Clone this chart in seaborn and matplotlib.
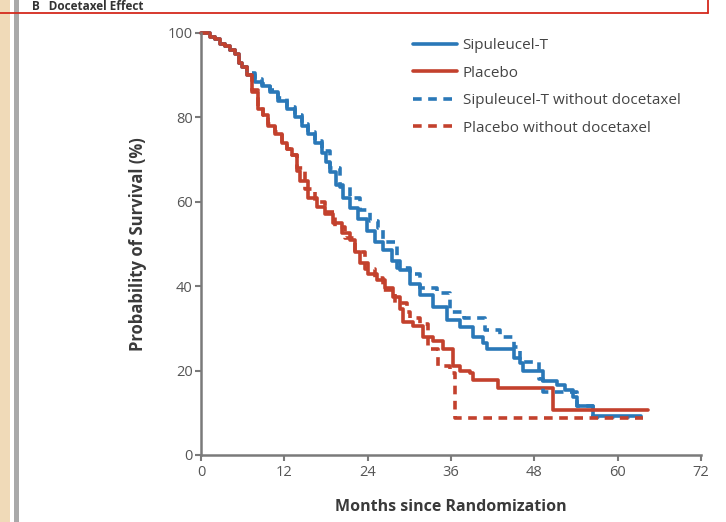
import matplotlib
matplotlib.use("Agg")
import matplotlib.pyplot as plt
from matplotlib.patches import Rectangle
from matplotlib.lines import Line2D
import seaborn as sns

# Kaplan-Meier step knots (months, % surviving)
sip_months = [0, 1.3, 2.0, 2.7, 3.5, 4.2, 4.9, 5.5, 5.9, 6.6, 7.8, 8.8, 9.9, 11.1, 12.4,
              13.5, 14.6, 15.4, 16.4, 17.4, 18.0, 18.6, 19.5, 20.5, 21.5, 22.6, 23.9, 25.1,
              26.2, 27.5, 28.7, 30.1, 31.6, 33.4, 35.4, 37.3, 39.2, 40.6, 41.2, 45.0,
              46.0, 46.4, 48.4, 49.3, 51.3, 52.4, 53.5, 54.2, 56.5, 63.3]
sip_surv = [100, 99, 98.5, 97.5, 97, 96, 95, 93, 92, 90, 88.5, 87.5, 86, 84, 82,
            80, 78, 76, 74, 71.5, 69.5, 67, 64, 61, 58.5, 56, 53, 50.5,
            48.5, 46, 43.8, 40.5, 38, 35, 32, 30.3, 28, 26.5, 25, 23,
            21.8, 20, 20, 17.5, 16.6, 15.4, 13.7, 11.5, 9.2, 9.2]

pla_months = [0, 1.3, 2.0, 2.7, 3.5, 4.2, 4.9, 5.5, 5.9, 6.6, 7.3, 8.2, 8.9, 9.7, 10.7,
              11.7, 12.4, 13.1, 13.8, 14.3, 15.4, 16.7, 17.9, 19.0, 20.3, 21.5, 22.2,
              22.9, 24.1, 25.4, 26.5, 27.7, 28.7, 29.1, 30.5, 32.0, 33.4, 34.9, 36.3,
              37.3, 38.8, 39.2, 42.7, 50.7, 64.4]
pla_surv = [100, 99, 98.5, 97.5, 97, 96, 95, 93, 92, 90, 86, 82, 80.5, 78, 76,
            74, 72.5, 71, 67.3, 65, 61, 58.8, 57, 55, 52.5, 51, 48,
            45.5, 43, 41.5, 39.5, 37.4, 34.5, 31.5, 30.5, 28, 27, 25, 21,
            20, 19.4, 17.8, 15.9, 10.7, 10.7]

sip_nodoc_months = [0, 1.3, 2.0, 2.7, 3.5, 4.2, 4.9, 5.5, 5.9, 6.6, 7.8, 8.8, 9.9, 11.1,
                    12.4, 13.5, 14.6, 15.4, 16.4, 17.4, 18.6, 20.0, 21.5, 22.9, 24.4,
                    25.5, 26.2, 28.2, 30.1, 31.6, 34.0, 35.9, 37.8, 40.9, 43.1, 45.0,
                    46.0, 48.6, 49.3, 54.2, 56.5, 62.8]
sip_nodoc_surv = [100, 99, 98.5, 97.5, 97, 96, 95, 93, 92, 90.5, 89, 88, 86.5, 84.5,
                  82.5, 80.5, 78.5, 76.5, 74.5, 72, 68, 63.5, 61, 58, 55.5,
                  53.8, 50.5, 44.3, 43, 39.5, 38.4, 34, 32.5, 29.5, 28, 25.6,
                  22, 18, 15, 11.5, 9, 9]

pla_nodoc_months = [0, 1.3, 2.0, 2.7, 3.5, 4.2, 4.9, 5.5, 5.9, 6.6, 7.3, 8.2, 8.9, 9.7,
                    10.7, 11.7, 12.4, 13.1, 13.8, 15.0, 16.4, 17.9, 19.3, 20.7, 22.2,
                    23.6, 25.1, 26.2, 28.0, 29.7, 30.1, 31.6, 32.7, 34.1, 35.9, 36.6, 63.7]
pla_nodoc_surv = [100, 99, 98.5, 97.5, 97, 96, 95, 93, 92, 90, 86.5, 82.5, 80.5, 78.5,
                  76.5, 74, 72.5, 71, 68, 63, 60, 57.5, 54, 51.5, 48,
                  44, 42, 39, 36, 34, 32.5, 31, 25, 21, 19.4, 8.8, 8.8]

x_ticks = [0, 12, 24, 36, 48, 60, 72]
y_ticks = [0, 20, 40, 60, 80, 100]

BLUE = "#2a78b8"
RED = "#c3412d"

sns.set_style("ticks")
plt.rcParams["font.family"] = ["Open Sans", "DejaVu Sans"]

fig = plt.figure(figsize=(7.26, 5.22), dpi=100)
ax = fig.add_axes([0.2769, 0.1284, 0.6887, 0.8084])

lw = 2.6
dash = (0, (2.4, 1.8))
sns.lineplot(x=sip_months, y=sip_surv, ax=ax, color=BLUE, lw=lw,
             drawstyle="steps-post", label="Sipuleucel-T", clip_on=False)
sns.lineplot(x=pla_months, y=pla_surv, ax=ax, color=RED, lw=lw,
             drawstyle="steps-post", label="Placebo", clip_on=False)
sns.lineplot(x=sip_nodoc_months, y=sip_nodoc_surv, ax=ax, color=BLUE, lw=lw,
             drawstyle="steps-post", linestyle=dash,
             label="Sipuleucel-T without docetaxel", clip_on=False)
sns.lineplot(x=pla_nodoc_months, y=pla_nodoc_surv, ax=ax, color=RED, lw=lw,
             drawstyle="steps-post", linestyle=dash,
             label="Placebo without docetaxel", clip_on=False)

ax.set_xlim(0, 72)
ax.set_ylim(0, 100)
ax.set_xticks(x_ticks)
ax.set_yticks(y_ticks)
sns.despine(ax=ax)
for side in ["left", "bottom"]:
    ax.spines[side].set_color("#7a7a7a")
    ax.spines[side].set_linewidth(1.8)
ax.tick_params(axis="both", direction="out", length=4, width=1.5,
               color="#7a7a7a", labelsize=10.5, labelcolor="#555555")
ax.tick_params(axis="x", pad=3)
ax.tick_params(axis="y", pad=2)

ax.set_xlabel("Months since Randomization", fontsize=11.5, fontweight="bold",
              color="#3a3a3a", labelpad=14)
ax.set_ylabel("Probability of Survival (%)", fontsize=12, fontweight="bold",
              color="#3a3a3a", labelpad=15)

leg = ax.legend(loc="upper left", bbox_to_anchor=(0.424, 0.988), frameon=False,
                fontsize=11, handlelength=2.9, handletextpad=0.35,
                labelspacing=0.82, borderpad=0, borderaxespad=0)
for t in leg.get_texts():
    t.set_color("#444444")

# page decorations around the panel
fig.add_artist(Rectangle((0, 0), 10 / 726, 1, transform=fig.transFigure,
                         color="#f0dab8", lw=0, zorder=0))
fig.add_artist(Rectangle((14 / 726, 0), 5 / 726, 1, transform=fig.transFigure,
                         color="#a9a9a9", lw=0, zorder=0))
fig.text(32 / 726, 1 - 10 / 522, "B   Docetaxel Effect", fontsize=8.5,
         fontweight="bold", color="#333333", va="baseline")
fig.add_artist(Line2D([0, 708 / 726], [1 - 12.5 / 522, 1 - 12.5 / 522],
                      transform=fig.transFigure, color="#d42a1e", lw=1.3))
fig.add_artist(Line2D([708 / 726, 708 / 726], [1 - 12.5 / 522, 1],
                      transform=fig.transFigure, color="#d42a1e", lw=1.3))

fig.savefig("out.png", dpi=100)
